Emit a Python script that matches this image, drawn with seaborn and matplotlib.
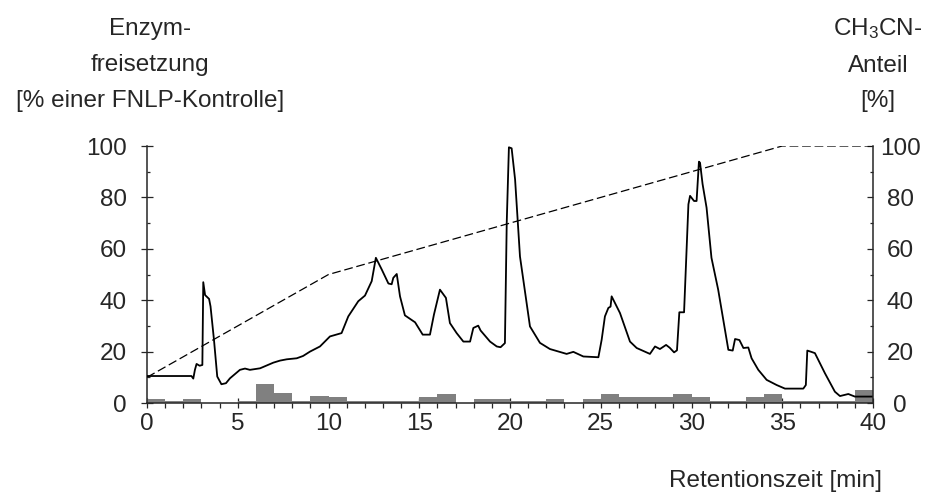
import numpy as np
import pandas as pd
import matplotlib
matplotlib.use("Agg")
import matplotlib.pyplot as plt
from matplotlib.ticker import MultipleLocator
import seaborn as sns

# chromatogram: enzyme release [% of FNLP control] vs retention time [min]
time_min = [0, 2.45, 2.55, 2.64, 2.73, 2.9, 3.05, 3.1, 3.2, 3.42, 3.5, 3.69, 3.87, 4.1, 4.35,
            4.57, 5.12, 5.4, 5.67, 6.23, 6.96, 7.33, 7.7, 8.25, 8.6, 8.98, 9.53, 10.08, 10.72,
            11.09, 11.64, 12.01, 12.38, 12.61, 12.93, 13.3, 13.48, 13.57, 13.76, 13.94, 14.21,
            14.77, 15.19, 15.59, 15.81, 16.14, 16.47, 16.69, 17.06, 17.43, 17.8, 17.98, 18.25,
            18.38, 18.9, 19.27, 19.48, 19.72, 19.82, 19.94, 20.09, 20.28, 20.55, 21.1, 21.65,
            22.2, 23.12, 23.49, 24.04, 24.87, 25.05, 25.23, 25.42, 25.54, 25.6, 26.06, 26.61,
            26.98, 27.71, 27.99, 28.26, 28.6, 28.8, 29.04, 29.2, 29.33, 29.59, 29.83, 29.92,
            30.14, 30.28, 30.41, 30.47, 30.61, 30.83, 31.1, 31.47, 31.75, 32.03, 32.27, 32.4,
            32.64, 32.86, 33.13, 33.31, 33.68, 34.14, 34.69, 35.15, 36.16, 36.3, 36.38, 36.6,
            36.8, 37.35, 37.9, 38.18, 38.64, 39.0, 40]
release = [10.5, 10.5, 9.5, 12.9, 15.2, 14.5, 14.8, 47, 42, 40.5, 37.6, 24.6, 10.3, 7.3, 7.7,
           9.6, 12.9, 13.4, 12.9, 13.5, 15.7, 16.5, 17, 17.4, 18.3, 20, 22, 25.9, 27.2,
           33.7, 39.6, 41.8, 47.4, 56.5, 52, 46.5, 46.2, 48.7, 50.2, 41.5, 34.1,
           31.4, 26.6, 26.6, 34.4, 44.1, 40.9, 31.1, 27.2, 23.9, 23.9, 29.2, 30.1,
           28.2, 23.9, 22, 21.7, 23.3, 70.2, 99.5, 99.1, 87, 57, 29.8, 23.4,
           21, 19.1, 19.9, 18.1, 17.8, 24.6, 33.7, 37, 37.5, 41.5, 35, 23.9,
           21.4, 19.1, 22, 21, 22.6, 21.5, 19.7, 20.5, 35.3, 35.3, 77.3, 80.6,
           78.6, 78.6, 93.9, 93.5, 85.2, 76, 56.5, 44.1, 32.4, 20.7, 20.4, 24.9,
           24.5, 21.4, 21.6, 17.4, 12.9, 9, 7, 5.6, 5.6, 7, 20.4, 19.9,
           19.4, 11.6, 4.4, 2.7, 3.5, 2.5, 2.5]

# fraction activity (1-min fractions), grey bars
fraction_start = list(range(40))
fraction_activity = [1.7, 0.8, 1.7, 0, 0, 0.9, 7.2, 4.0, 0.9, 2.9,
                     2.5, 0.9, 0.9, 0.9, 0.9, 2.5, 3.6, 0, 1.7, 1.7,
                     0.8, 0.8, 1.7, 0, 1.7, 3.6, 2.5, 2.5, 2.5, 3.6,
                     2.5, 0.8, 0.8, 2.5, 3.6, 0.8, 0.8, 0.8, 0.8, 5.0]

# acetonitrile gradient
gradient_time = [0, 10, 35, 40]
gradient_pct = [10, 50, 100, 100]

sns.set_style("ticks")
plt.rcParams["font.family"] = ["Liberation Sans", "DejaVu Sans"]
plt.rcParams["mathtext.default"] = "regular"
plt.rcParams["axes.linewidth"] = 1.1
FS = 17.5

W, H = 933, 499
fig = plt.figure(figsize=(W / 100, H / 100), dpi=100)
ax = fig.add_axes([147 / W, 1 - 403 / H, (873 - 147) / W, (403 - 146) / H])

# bars via histplot with weights
fractions = pd.DataFrame({"mid": np.array(fraction_start) + 0.5, "act": fraction_activity})
sns.histplot(data=fractions, x="mid", weights="act", binwidth=1, binrange=(0, 40),
             color="#808080", edgecolor="none", alpha=1, ax=ax, zorder=1)

chrom = pd.DataFrame({"t": time_min, "v": release})
sns.lineplot(data=chrom, x="t", y="v", ax=ax, color="black", lw=1.3,
             estimator=None, sort=False, zorder=3)

ax.set_xlim(0, 40)
ax.set_ylim(0, 100)
ax.set_xlabel("")
ax.set_ylabel("")
ax.xaxis.set_major_locator(MultipleLocator(5))
ax.xaxis.set_minor_locator(MultipleLocator(1))
ax.yaxis.set_major_locator(MultipleLocator(20))
ax.yaxis.set_minor_locator(MultipleLocator(10))
ax.spines["top"].set_visible(False)
ax.spines["right"].set_visible(False)
ax.tick_params(axis="x", which="major", direction="inout", length=6.5, width=0.9,
               pad=4.0, labelsize=FS)
ax.tick_params(axis="x", which="minor", direction="out", length=3.6, width=0.9)
ax.tick_params(axis="y", which="major", direction="inout", length=8.5, width=0.9,
               pad=10.5, labelsize=FS)
ax.tick_params(axis="y", which="minor", direction="in", length=2.5, width=0.9)

ax2 = ax.twinx()
sns.lineplot(x=gradient_time, y=gradient_pct, ax=ax2, color="black", lw=0.9,
             linestyle=(0, (7, 3)), estimator=None, sort=False)
ax2.set_ylim(0, 100)
ax2.set_xlim(0, 40)
ax2.set_ylabel("")
for s in ["top", "left", "bottom"]:
    ax2.spines[s].set_visible(False)
ax2.yaxis.set_major_locator(MultipleLocator(20))
ax2.yaxis.set_minor_locator(MultipleLocator(10))
ax2.tick_params(axis="y", which="major", direction="in", length=4, width=0.9,
                pad=19.5, labelsize=FS)
ax2.tick_params(axis="y", which="minor", direction="in", length=2.4, width=0.9)
for lab in ax2.get_yticklabels():
    lab.set_horizontalalignment("center")

# titles above the axes
left_lines = ["Enzym-", "freisetzung", "[% einer FNLP-Kontrolle]"]
right_lines = ["CH$_3$CN-", "Anteil", "[%]"]
baselines = [35, 71.5, 106.5]
for txt, yb in zip(left_lines, baselines):
    fig.text(150 / W, 1 - yb / H, txt, ha="center", va="baseline", fontsize=FS)
for txt, yb in zip(right_lines, baselines):
    fig.text(878 / W, 1 - yb / H, txt, ha="center", va="baseline", fontsize=FS)

fig.text(882 / W, 1 - 487 / H, "Retentionszeit [min]", ha="right", va="baseline",
         fontsize=FS)

fig.savefig("out.png", dpi=100)
